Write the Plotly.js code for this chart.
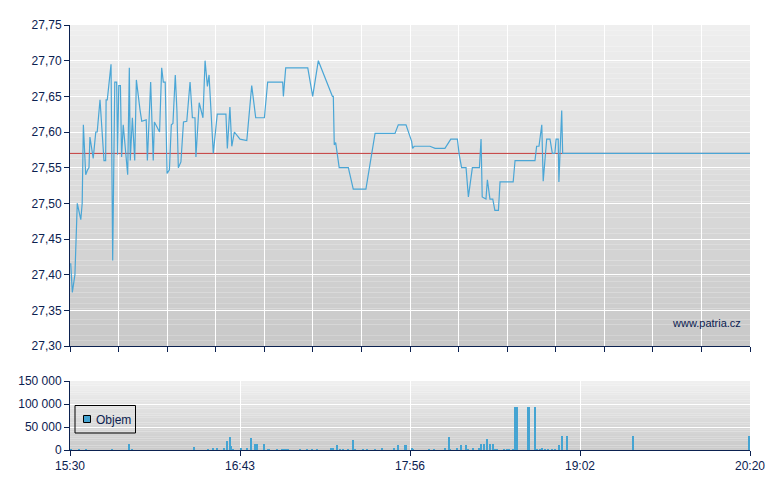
<!DOCTYPE html>
<html>
<head>
<meta charset="utf-8">
<script src="https://cdn.plot.ly/plotly-3.0.1.min.js"></script>
<style>html,body{margin:0;padding:0;background:#fff;}#chart{width:780px;height:490px;}</style>
</head>
<body>
<div id="chart"></div>
<script>
// minutes after 15:30
const priceMinutes = [0.3,1.0,2.1,3.1,4.6,5.2,5.7,6.7,7.5,8.1,8.5,9.9,11.0,11.6,12.8,14.5,15.2,15.4,15.9,17.5,18.2,19.1,19.9,20.3,20.8,21.5,22.0,22.7,24.6,25.3,25.7,26.6,27.6,28.3,29.9,30.6,32.5,33.0,34.4,35.5,36.0,38.2,39.1,39.8,40.6,41.4,42.4,43.2,43.9,44.9,45.6,46.2,47.3,48.4,49.8,51.2,52.2,53.3,53.7,55.1,56.7,57.6,58.6,59.3,61.1,62.8,66.5,67.1,68.2,69.0,70.1,72.5,75.4,77.5,79.2,82.9,84.3,90.7,91.0,92.0,101.4,103.5,105.9,111.9,112.3,112.7,113.3,114.8,118.7,120.8,126.2,130.1,138.6,140.0,143.3,145.7,146.1,146.8,153.5,155.7,159.9,162.4,165.2,166.0,167.0,168.9,169.9,171.6,174.6,175.3,175.8,176.7,177.4,178.0,179.1,180.3,181.2,182.7,183.4,189.0,189.8,198.3,199.0,200.0,201.2,201.8,203.3,204.7,205.7,206.8,207.3,208.2,208.5,209.7,210.1,290];
const priceValues = [27.416,27.375,27.40,27.50,27.477,27.50,27.61,27.54,27.547,27.55,27.593,27.563,27.60,27.60,27.645,27.56,27.56,27.645,27.645,27.695,27.42,27.67,27.67,27.568,27.665,27.665,27.565,27.61,27.54,27.69,27.56,27.62,27.56,27.673,27.63,27.615,27.617,27.56,27.67,27.56,27.614,27.60,27.69,27.67,27.67,27.542,27.547,27.61,27.612,27.68,27.63,27.55,27.558,27.614,27.615,27.67,27.62,27.62,27.565,27.641,27.62,27.70,27.664,27.68,27.57,27.625,27.625,27.577,27.635,27.58,27.60,27.59,27.588,27.665,27.62,27.62,27.67,27.67,27.65,27.69,27.69,27.65,27.70,27.65,27.65,27.582,27.585,27.55,27.55,27.52,27.52,27.598,27.598,27.61,27.61,27.587,27.577,27.58,27.58,27.577,27.577,27.59,27.59,27.568,27.55,27.55,27.509,27.55,27.55,27.59,27.509,27.507,27.506,27.533,27.506,27.506,27.49,27.49,27.53,27.53,27.56,27.56,27.58,27.58,27.61,27.531,27.59,27.59,27.57,27.57,27.59,27.59,27.53,27.63,27.57,27.57];
const referencePrice = 27.57;

const volumeMinutes = [0.4,3.8,6.8,17.8,25.2,26.6,52.8,58.9,60.9,62.6,65.8,67.0,68.2,68.8,69.6,72.9,75.5,77.1,78.9,79.6,82.7,84.3,85.0,88.2,90.3,91.3,92.1,93.1,98.1,100.9,103.1,105.5,111.2,112.0,113.7,115.1,116.6,118.7,120.6,121.5,125.1,126.5,130.1,132.9,138.2,139.8,142.9,143.3,145.7,146.4,153.2,155.4,159.9,161.5,162.1,165.2,166.6,168.8,169.6,171.7,174.3,175.2,176.7,177.7,179.1,180.3,181.3,182.2,185.1,186.2,187.2,189.1,189.8,190.5,195.3,195.7,198.3,199.3,200.4,201.2,202.6,204.0,205.4,206.8,208.5,209.7,211.8,240.0,289.7];
const volumeValues = [3000,3000,3000,2000,13000,3000,6500,2000,4000,4000,5000,20000,28000,9000,2000,5000,5000,26000,13000,13000,13000,2000,2000,2000,2000,2000,2000,2000,2000,2000,2000,2000,4500,4500,11000,3000,3000,3000,22000,2000,2000,2000,2000,4000,4000,11000,11000,11000,4000,2000,2000,3000,4000,27600,2000,5000,11000,11000,2000,5000,4000,13000,13000,24000,13000,13000,3000,3000,2000,2000,2000,2000,93500,93500,93500,93500,93500,2000,3000,4000,2000,2000,2000,2000,11000,31000,31000,31000,31000];

const xTickLabels = ['15:30','16:43','17:56','19:02','20:20'];
const seriesName = 'Objem';
const watermark = 'www.patria.cz';

const xMax = 290;
const navy = '#0b2150';
const lineBlue = '#4aa6d6';
const barBlue = '#45a4d2';
const W = 780, H = 490, ML = 70, MR = 30, MT = 25, MB = 40;
const pw = W - ML - MR, ph = H - MT - MB;
const px = v => (v - ML) / pw;          // pixel -> paper x
const py = v => (H - MB - v) / ph;      // pixel -> paper y

// gradient background strips
const shapes = [];
function gradient(xr, yr, n, top, bottom) {
  for (let i = 0; i < n; i++) {
    const t = (i + 0.5) / n;
    const c = Math.round(top + (bottom - top) * t);
    shapes.push({type:'rect', xref:xr, yref:yr, x0:0, x1:1, y0:1 - (i+1)/n, y1:1 - i/n,
      fillcolor:`rgb(${c},${c},${c})`, line:{width:0}, layer:'below'});
  }
}
gradient('x domain','y domain',60,239,200);
gradient('x2 domain','y2 domain',30,240,202);

// hand-built legend box (matches the compact original)
shapes.push({type:'rect', xref:'paper', yref:'paper', x0:px(75), x1:px(135.5), y0:py(433), y1:py(405.5),
  line:{color:'#000', width:1}, fillcolor:'rgba(0,0,0,0)', layer:'above'});
shapes.push({type:'rect', xref:'paper', yref:'paper', x0:px(83.5), x1:px(90.5), y0:py(422.5), y1:py(415.5),
  line:{color:'#000', width:1}, fillcolor:barBlue, layer:'above'});

const tickFont = {family:'Liberation Sans, Arial, sans-serif', size:12, color:navy};

const data = [
  {type:'scatter', mode:'lines', x:[0, xMax], y:[referencePrice, referencePrice], xaxis:'x', yaxis:'y',
   line:{color:'#c43a3a', width:1}, showlegend:false, hoverinfo:'skip'},
  {type:'scatter', mode:'lines', x:priceMinutes, y:priceValues, xaxis:'x', yaxis:'y',
   line:{color:lineBlue, width:1.2}, showlegend:false, hoverinfo:'skip'},
  {type:'bar', x:volumeMinutes, y:volumeValues, xaxis:'x2', yaxis:'y2', width:0.8, name:seriesName,
   marker:{color:barBlue, line:{width:0}}, showlegend:false, hoverinfo:'skip'}
];

const layout = {
  width:W, height:H,
  margin:{l:ML, r:MR, t:MT, b:MB},
  paper_bgcolor:'#ffffff', plot_bgcolor:'rgba(0,0,0,0)',
  separators:', ',
  font:tickFont,
  showlegend:false,
  xaxis:{domain:[0,1], anchor:'y', range:[0,xMax], tick0:0, dtick:xMax/14, showticklabels:false,
    showgrid:true, gridcolor:'#ffffff', gridwidth:1, zeroline:false,
    showline:true, linecolor:navy, linewidth:1, ticks:'outside', ticklen:5, tickcolor:navy},
  yaxis:{domain:[py(346),1], anchor:'x', range:[27.30,27.75], dtick:0.05, tick0:27.30, tickformat:'.2f',
    showgrid:true, gridcolor:'#ffffff', gridwidth:1, zeroline:false,
    showline:true, linecolor:navy, linewidth:1, ticks:'outside', ticklen:5, tickcolor:navy, tickfont:tickFont},
  xaxis2:{domain:[0,1], anchor:'y2', range:[0,xMax], tickmode:'array',
    tickvals:xTickLabels.map((_, i) => i * xMax / (xTickLabels.length - 1)), ticktext:xTickLabels,
    showgrid:true, gridcolor:'#ffffff', gridwidth:1, zeroline:false,
    showline:true, linecolor:navy, linewidth:1, ticks:'outside', ticklen:5, tickcolor:navy, tickfont:tickFont},
  yaxis2:{domain:[0,py(381)], anchor:'x2', range:[0,150000], dtick:50000, tick0:0, tickformat:',d',
    showgrid:true, gridcolor:'#ffffff', gridwidth:1, zeroline:false,
    showline:true, linecolor:navy, linewidth:1, ticks:'outside', ticklen:5, tickcolor:navy, tickfont:tickFont},
  shapes:shapes,
  annotations:[
    {text:watermark, xref:'paper', yref:'paper', x:px(743), y:py(323), xanchor:'right', yanchor:'middle',
     showarrow:false, font:{family:'Liberation Sans, Arial, sans-serif', size:11, color:navy}},
    {text:seriesName, xref:'paper', yref:'paper', x:px(93.5), y:py(419.5), xanchor:'left', yanchor:'middle',
     showarrow:false, font:tickFont}
  ],
  bargap:0
};

Plotly.newPlot('chart', data, layout, {staticPlot:true, displayModeBar:false});
</script>
</body>
</html>
